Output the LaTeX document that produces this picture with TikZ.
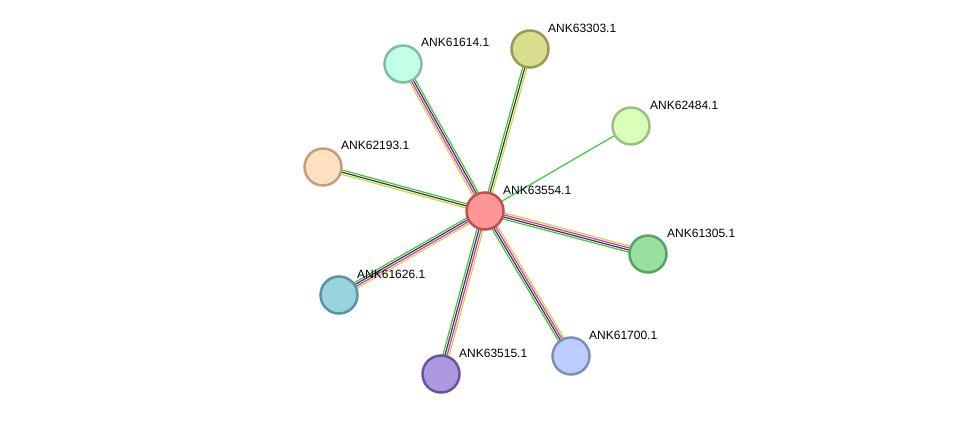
\documentclass[tikz,border=0pt]{standalone}
\usepackage{fontspec}
\setmainfont{Liberation Sans}
\usetikzlibrary{calc}
\definecolor{egreen}{RGB}{60,200,60}
\definecolor{eblack}{RGB}{60,60,60}
\definecolor{emag}{RGB}{220,40,220}
\definecolor{eyel}{RGB}{200,215,50}
\tikzset{
  prot/.style={circle,minimum size=37pt,inner sep=0pt,line width=2.5pt},
  lbl/.style={anchor=west,font=\fontsize{12pt}{14pt}\selectfont,inner sep=0pt},
  eline/.style={line width=1.2pt}
}
\newcommand{\edgeline}[4]{% from, to, offset, color
  \draw[eline,#4] ($(#1)!#3!-90:(#2)$) -- ($(#2)!#3!90:(#1)$);}
\begin{document}
\begin{tikzpicture}[x=1pt,y=-1pt]
\useasboundingbox (0,0) rectangle (976,420);
\coordinate (c) at (485,211);
\coordinate (p1) at (403,64);
\coordinate (p2) at (530,49);
\coordinate (p3) at (631,126);
\coordinate (p4) at (323,167);
\coordinate (p5) at (648,254);
\coordinate (p6) at (339,295);
\coordinate (p7) at (571,356);
\coordinate (p8) at (441,374);
% edges
\foreach \p in {p1,p5,p6,p7,p8}{
  \edgeline{c}{\p}{3.1pt}{egreen}
  \edgeline{c}{\p}{1.05pt}{eblack}
  \edgeline{c}{\p}{-1.05pt}{emag}
  \edgeline{c}{\p}{-3.1pt}{eyel}
}
\edgeline{c}{p2}{2.1pt}{eyel}
\edgeline{c}{p2}{0pt}{eblack}
\edgeline{c}{p2}{-2.1pt}{egreen}
\edgeline{c}{p4}{2.1pt}{egreen}
\edgeline{c}{p4}{0pt}{eblack}
\edgeline{c}{p4}{-2.1pt}{eyel}
\edgeline{c}{p3}{0pt}{egreen}
% nodes
\node[prot,fill={rgb,255:red,255;green,150;blue,150},draw={rgb,255:red,190;green,80;blue,80}] (n0) at (c) {};
\node[prot,fill={rgb,255:red,194;green,255;blue,230},draw={rgb,255:red,125;green,190;blue,165}] (n1) at (p1) {};
\node[prot,fill={rgb,255:red,217;green,222;blue,143},draw={rgb,255:red,152;green,155;blue,85}] (n2) at (p2) {};
\node[prot,fill={rgb,255:red,217;green,255;blue,184},draw={rgb,255:red,152;green,195;blue,125}] (n3) at (p3) {};
\node[prot,fill={rgb,255:red,255;green,225;blue,194},draw={rgb,255:red,190;green,160;blue,128}] (n4) at (p4) {};
\node[prot,fill={rgb,255:red,153;green,224;blue,159},draw={rgb,255:red,90;green,162;blue,98}] (n5) at (p5) {};
\node[prot,fill={rgb,255:red,153;green,211;blue,224},draw={rgb,255:red,90;green,148;blue,162}] (n6) at (p6) {};
\node[prot,fill={rgb,255:red,189;green,205;blue,255},draw={rgb,255:red,124;green,142;blue,190}] (n7) at (p7) {};
\node[prot,fill={rgb,255:red,173;green,153;blue,224},draw={rgb,255:red,105;green,85;blue,158}] (n8) at (p8) {};
% labels
\node[lbl] (l0) at (503,190.5) {ANK63554.1};
\node[lbl] (l1) at (421,42.5) {ANK61614.1};
\node[lbl] (l2) at (548,28.5) {ANK63303.1};
\node[lbl] (l3) at (650,105.5) {ANK62484.1};
\node[lbl] (l4) at (341,145.5) {ANK62193.1};
\node[lbl] (l5) at (667,233.5) {ANK61305.1};
\node[lbl] (l6) at (357,274.5) {ANK61626.1};
\node[lbl] (l7) at (589,335.5) {ANK61700.1};
\node[lbl] (l8) at (459,353.5) {ANK63515.1};
\end{tikzpicture}
\end{document}
